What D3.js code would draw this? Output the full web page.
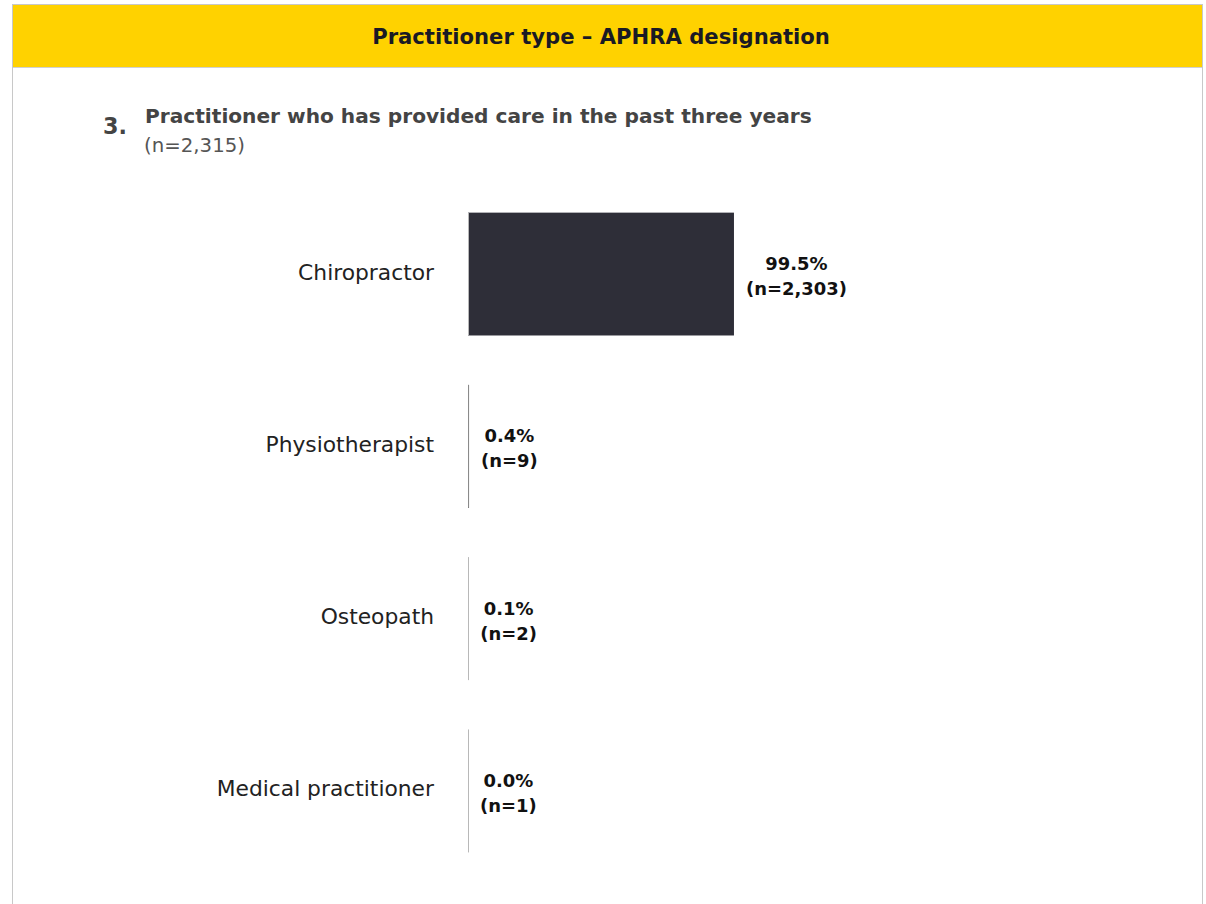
<!DOCTYPE html>
<html><head><meta charset="utf-8">
<script src="https://cdn.jsdelivr.net/npm/d3@7"></script>
<style>body{margin:0;background:#fff;}svg{display:block;}</style>
</head><body>
<svg id="c" width="1206" height="904"></svg>
<script>
const categories = ["Chiropractor","Physiotherapist","Osteopath","Medical practitioner"];
const percents = [99.5, 0.39, 0.09, 0.04];
const pctLabels = ["99.5%","0.4%","0.1%","0.0%"];
const counts = ["2,303","9","2","1"];
const headerTitle = "Practitioner type – APHRA designation";
const qNumber = "3.";
const qTitle = "Practitioner who has provided care in the past three years";
const qSub = "(n=2,315)";

const font = "'DejaVu Sans', 'Noto Sans', sans-serif";
const svg = d3.select("#c");

// size a text so that its rendered width matches the reference width
function fit(sel, target){
  const w = sel.node().getComputedTextLength();
  const fs = parseFloat(sel.attr("font-size"));
  sel.attr("font-size", (fs*target/w).toFixed(2));
  return sel;
}

// frame
svg.append("rect").attr("x",12.5).attr("y",4.5).attr("width",1190).attr("height",960)
  .attr("fill","#fff").attr("stroke","#c8c8c8").attr("stroke-width",1);
svg.append("rect").attr("x",13).attr("y",5).attr("width",1189).attr("height",62).attr("fill","#ffd200");
svg.append("line").attr("x1",13).attr("x2",1202).attr("y1",67.5).attr("y2",67.5).attr("stroke","#d0d0d0").attr("stroke-width",1);
fit(svg.append("text").attr("x",601).attr("y",44).attr("text-anchor","middle")
  .attr("font-family",font).attr("font-weight",700).attr("font-size",18).attr("fill","#1a1a24").text(headerTitle), 458);

fit(svg.append("text").attr("x",103).attr("y",134).attr("font-family",font).attr("font-weight",700)
  .attr("font-size",20).attr("fill","#444").text(qNumber), 24);
fit(svg.append("text").attr("x",145).attr("y",123).attr("font-family",font).attr("font-weight",700)
  .attr("font-size",17).attr("fill","#444").text(qTitle), 667);
fit(svg.append("text").attr("x",144).attr("y",152).attr("font-family",font).attr("font-weight",400)
  .attr("font-size",16).attr("fill","#555").text(qSub), 101);

const x = d3.scaleLinear().domain([0,100]).range([468, 735.3]);
const y = d3.scaleBand().domain(categories).range([188, 877]).paddingInner(0.287).paddingOuter(0.143);

const g = svg.append("g");
g.selectAll("rect.bar").data(categories).join("rect").attr("class","bar")
  .attr("x", x(0)).attr("y", d=>y(d))
  .attr("width", (d,i)=>x(percents[i])-x(0)).attr("height", y.bandwidth())
  .attr("fill","#2e2e38");
// thin edge lines of each bar (the bar outline)
g.selectAll("line.edge").data(categories).join("line").attr("class","edge")
  .attr("x1", x(0)+0.5).attr("x2", x(0)+0.5)
  .attr("y1", d=>y(d)).attr("y2", d=>y(d)+y.bandwidth())
  .attr("stroke",(d,i)=> i===1 ? "#8a8a8a" : "#b8b8b8").attr("stroke-width",1);

const yAxis = d3.axisLeft(y).tickSize(0).tickPadding(0);
const ax = svg.append("g").attr("transform",`translate(434,0)`).call(yAxis);
ax.select(".domain").remove();
ax.selectAll("text").attr("font-family",font).attr("font-size",18).attr("fill","#222").attr("dy","0.25em");
// match reference label width for "Chiropractor" (136px) and apply to all
{
  const t0 = ax.select("text");
  const w = t0.node().getComputedTextLength();
  ax.selectAll("text").attr("font-size", (18*136/w).toFixed(2));
}

let valSize = null;
categories.forEach((c,i)=>{
  const cy = y(c) + y.bandwidth()/2;
  const t = g.append("text").attr("font-family",font).attr("font-weight",700)
    .attr("font-size",15).attr("fill","#111").attr("text-anchor","middle");
  const l1 = t.append("tspan").attr("y", cy-4).text(pctLabels[i]);
  const l2 = t.append("tspan").attr("y", cy+21).text(`(n=${counts[i]})`);
  if(valSize===null){
    valSize = 15*101/l2.node().getComputedTextLength();
  }
  t.attr("font-size", valSize.toFixed(2));
  const w = Math.max(l1.node().getComputedTextLength(), l2.node().getComputedTextLength());
  const cx = x(percents[i]) + 12 + w/2;
  l1.attr("x", cx); l2.attr("x", cx);
});
</script>
</body></html>
